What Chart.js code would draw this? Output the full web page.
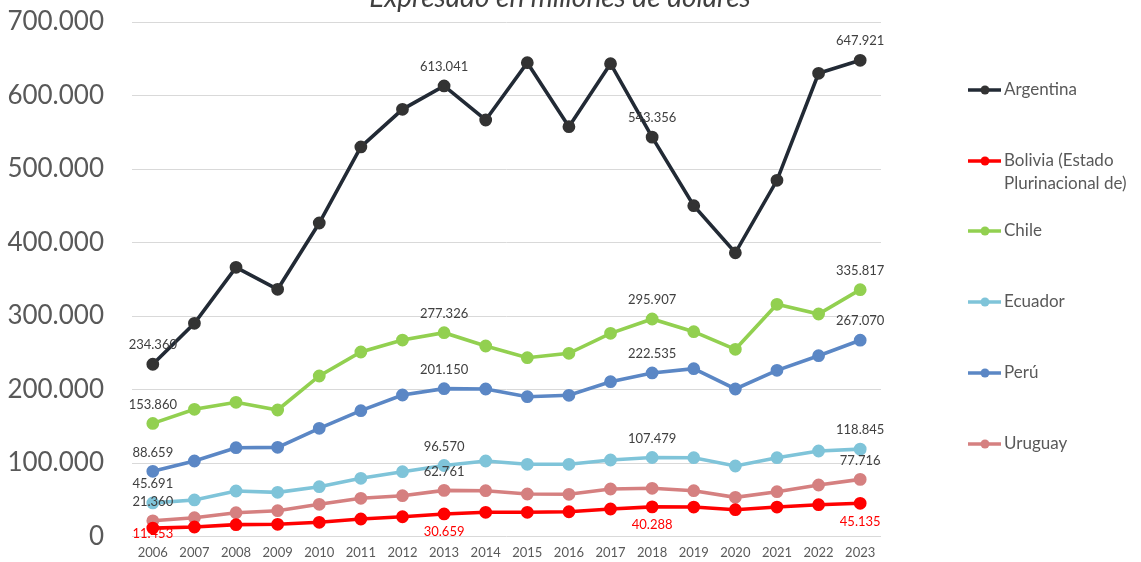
<!DOCTYPE html>
<html>
<head>
<meta charset="utf-8">
<script src="https://cdn.jsdelivr.net/npm/chart.js@4.4.1/dist/chart.umd.min.js"></script>
<style>
html,body{margin:0;padding:0;background:#fff;}
#wrap{width:1141px;height:562px;position:relative;}
</style>
</head>
<body>
<div id="wrap"><canvas id="c" width="1141" height="562"></canvas></div>
<script>
const years = ['2006','2007','2008','2009','2010','2011','2012','2013','2014','2015','2016','2017','2018','2019','2020','2021','2022','2023'];
const argentina = [234360,290100,366200,336300,426500,530000,581200,613041,566700,644600,557600,643300,543356,450100,386000,484600,630200,647921];
const bolivia   = [11453,12900,16100,16600,19300,23800,26900,30659,32900,32900,33700,37400,40288,40100,36500,40100,43300,45135];
const chile     = [153860,173000,182600,172100,218400,251000,267300,277326,259200,243300,249200,276400,295907,278700,254700,315900,302700,335817];
const ecuador   = [45691,49700,61900,60100,67800,79200,88200,96570,102700,98200,98200,104100,107479,107200,95900,107200,116300,118845];
const peru      = [88659,102700,120800,121300,147200,171200,192500,201150,200700,190200,192100,210600,222535,228300,200700,226100,246000,267070];
const uruguay   = [21360,25600,32400,35100,43800,52000,55500,62761,62300,57800,57400,64600,65600,62300,53300,61000,70100,77716];
const seriesNames = ['Argentina','Bolivia (Estado\nPlurinacional de)','Chile','Ecuador','Perú','Uruguay'];
const labelledYears = ['2006','2013','2018','2023'];
const uruguayLabelledYears = ['2006','2013','2023'];
const yTicks = [0,100000,200000,300000,400000,500000,600000,700000];
const titleText = 'Expresado en millones de dólares';

const FONT = 'Lato, "Open Sans", sans-serif';
function fmt(v){ return Math.round(v).toString().replace(/\B(?=(\d{3})+(?!\d))/g,'.'); }

function ds(label, data, color, pointColor, labelYears, labelColor, below){
  return {label, data, borderColor:color, backgroundColor:pointColor||color,
    pointBackgroundColor:pointColor||color, pointBorderColor:pointColor||color,
    borderWidth:3.6, pointRadius:4.6, pointHoverRadius:4.6, tension:0,
    _labelYears:labelYears, _labelColor:labelColor||'#404040', _below:!!below};
}

const datasets = [
  ds(seriesNames[0], argentina, '#222a35', '#333333', labelledYears),
  ds(seriesNames[1], bolivia, '#ff0000', '#ff0000', labelledYears, '#ff0000', true),
  ds(seriesNames[2], chile, '#92d050', '#92d050', labelledYears),
  ds(seriesNames[3], ecuador, '#7fc4d9', '#7fc4d9', labelledYears),
  ds(seriesNames[4], peru, '#5b87c5', '#5b87c5', labelledYears),
  ds(seriesNames[5], uruguay, '#d58080', '#d58080', uruguayLabelledYears)
];

const extras = {
  id:'extras',
  afterDatasetsDraw(chart){
    const ctx = chart.ctx;
    ctx.save();
    ctx.font = '13px ' + FONT;
    ctx.textAlign = 'center';
    ctx.textBaseline = 'middle';
    chart.data.datasets.forEach((d,i)=>{
      const meta = chart.getDatasetMeta(i);
      d._labelYears.forEach(yr=>{
        const idx = chart.data.labels.indexOf(yr);
        const p = meta.data[idx];
        let y = d._below ? p.y + 18 : p.y - 19;
        if (d._below) y = Math.min(y, chart.chartArea.bottom - 3);
        ctx.fillStyle = d._labelColor;
        ctx.fillText(fmt(d.data[idx]), p.x, y);
      });
    });
    ctx.font = 'italic 28px ' + FONT;
    ctx.fillStyle = '#404040';
    ctx.textBaseline = 'alphabetic';
    ctx.fillText(titleText, 560, 7);
    const ys = [90,161,231,302,373,444];
    chart.data.datasets.forEach((d,i)=>{
      const y = ys[i];
      ctx.strokeStyle = d.borderColor;
      ctx.lineWidth = 3.5;
      ctx.beginPath(); ctx.moveTo(968,y); ctx.lineTo(1001,y); ctx.stroke();
      ctx.fillStyle = d.pointBackgroundColor;
      ctx.beginPath(); ctx.arc(985,y,4.5,0,Math.PI*2); ctx.fill();
      ctx.fillStyle = '#595959';
      ctx.font = '17px ' + FONT;
      ctx.textAlign = 'left';
      ctx.textBaseline = 'middle';
      d.label.split('\n').forEach((line,k)=>ctx.fillText(line, 1004, y + k*23));
    });
    ctx.restore();
  }
};

new Chart(document.getElementById('c'), {
  type:'line',
  data:{labels:years, datasets},
  options:{
    responsive:false, animation:false,
    layout:{padding:{top:22,right:260,left:0,bottom:0}},
    plugins:{legend:{display:false}, tooltip:{enabled:false}, title:{display:false}},
    scales:{
      x:{
        offset:true,
        grid:{display:false, drawTicks:false},
        border:{display:false},
        ticks:{color:'#595959', font:{family:FONT, size:13}, padding:9, maxRotation:0, autoSkip:false},
        afterFit(s){ s.height = 25.5; s.paddingLeft = 0; s.paddingRight = 0; }
      },
      y:{
        min:0, max:700000,
        afterBuildTicks(s){ s.ticks = yTicks.map(v=>({value:v})); },
        grid:{color:'#d9d9d9', lineWidth:1, drawTicks:false},
        border:{display:false},
        ticks:{color:'#595959', font:{family:FONT, size:26}, padding:28, callback:(v)=>fmt(v)},
        afterFit(s){ s.width = 132; s.paddingTop = 0; s.paddingBottom = 0; }
      }
    }
  },
  plugins:[extras]
});
</script>
</body>
</html>
